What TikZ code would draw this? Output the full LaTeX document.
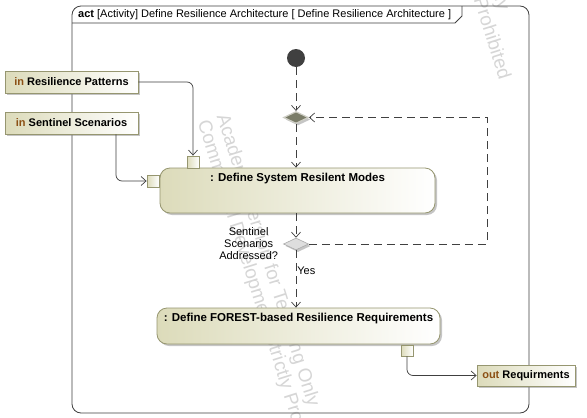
\documentclass[tikz,border=0pt]{standalone}
\usepackage{fontspec}
\setmainfont{Liberation Sans}
\usetikzlibrary{arrows.meta,positioning,shapes.geometric,shadows,calc}
\definecolor{frameGray}{RGB}{64,64,64}
\definecolor{nodeOlive}{RGB}{150,150,112}
\definecolor{fillCream}{RGB}{220,219,186}
\definecolor{pinBrown}{RGB}{140,80,20}
\definecolor{initDark}{RGB}{64,64,64}
\definecolor{mergeDark}{RGB}{122,124,104}
\definecolor{mergeRim}{RGB}{205,205,196}
\definecolor{decideLight}{RGB}{222,222,222}
\definecolor{decideRim}{RGB}{170,170,170}
\definecolor{markGray}{RGB}{214,214,214}
\tikzset{
  shade/.style={drop shadow={shadow xshift=2pt, shadow yshift=-2pt, fill=black!50, opacity=0.45}},
  action/.style={draw=nodeOlive, thick, rounded corners=10pt, left color=fillCream, right color=white, minimum height=45pt, inner sep=0pt, shade},
  actlabel/.style={font=\bfseries\fontsize{11.5}{13}\selectfont, inner sep=0pt},
  pinbox/.style={draw=nodeOlive, thick, left color=fillCream, right color=white, minimum height=22pt, inner sep=0pt, font=\bfseries\fontsize{11}{13}\selectfont, shade},
  portbox/.style={draw=nodeOlive, thick, left color=fillCream, right color=white, minimum size=12pt, inner sep=0pt},
  merge/.style={diamond, aspect=2, minimum width=25pt, minimum height=12pt, inner sep=0pt, shade},
  flow/.style={draw=frameGray, line width=0.7pt, -{Straight Barb[length=5pt,width=9pt]}},
  ctrl/.style={flow, dash pattern=on 8pt off 5pt},
  obj/.style={flow, rounded corners=6pt},
  note/.style={font=\fontsize{11}{12}\selectfont, inner sep=1pt},
  markText/.style={text=markGray, font=\fontsize{19}{20}\selectfont, align=left, inner sep=0pt}
}
\newcommand{\pinkind}[1]{\textcolor{pinBrown}{#1}}

\begin{document}
\begin{tikzpicture}[x=1pt,y=-1pt]
  \useasboundingbox (0,0) rectangle (587,418);
  \fill[white] (0,0) rectangle (587,418);

  % watermark
  \begin{scope}
    \clip (0,0) rectangle (587,418);
    \node[markText, anchor=north west, rotate=-72.5] (markA) at (230,112) {Academic Version for Teaching Only\\Commercial Development Strictly Prohibited};
    \node[markText, anchor=north west, rotate=-72.5] (markB) at (420,-284) {Academic Version for Teaching Only\\Commercial Development Strictly Prohibited};
  \end{scope}

  % frame
  \draw[frameGray, line width=0.8pt, rounded corners=9pt] (72,6) rectangle (529,413);
  \draw[frameGray, line width=0.8pt] (72,23) -- (455,23) -- (462,16) -- (462,6);
  \node[anchor=west, font=\fontsize{11}{13}\selectfont, inner sep=0pt] (title) at (78,14.5) {\textbf{act} [Activity] Define Resilience Architecture [ Define Resilience Architecture ]};

  % control nodes
  \node[circle, fill=initDark, minimum size=18pt, inner sep=0pt] (init) at (296,58) {};
  \node[merge, fill=mergeDark, draw=mergeRim, line width=1.2pt] (merge) at (296,117.5) {};
  \node[merge, fill=decideLight, draw=decideRim, line width=0.6pt] (decide) at (296,244) {};
  \node[note, align=center, left=4pt of decide.west] (question) {Sentinel\\Scenarios\\Addressed?};
  \coordinate (loop) at (487,180);

  % actions
  \node[action, minimum width=275pt] (modes) at (297.5,190.5) {};
  \node[actlabel, below=5pt of modes.north] (modesTxt) {: Define System Resilent Modes};
  \node[action, minimum width=283pt, minimum height=36pt] (forest) at (298.5,326) {};
  \node[actlabel, below=5pt of forest.north] (forestTxt) {: Define FOREST-based Resilience Requirements};

  % pins
  \node[portbox] (topPin) at (193,162) {};
  \node[portbox] (leftPin) at (153,181) {};
  \node[portbox, minimum height=11pt] (botPin) at (407,350.5) {};

  % parameters
  \node[pinbox, minimum width=133pt] (inPat) at (71.5,82) {\pinkind{in} Resilience Patterns};
  \node[pinbox, minimum width=133pt] (inScen) at (71.5,123) {\pinkind{in} Sentinel Scenarios};
  \node[pinbox, minimum width=98pt, minimum height=21pt] (outReq) at (526,375.5) {\pinkind{out} Requirments};

  % flows
  \draw[obj] (inPat.east) -| (topPin.north);
  \draw[obj] ([xshift=44.5pt]inScen.south) |- (leftPin.west);
  \draw[ctrl] (init) -- (merge.north);
  \draw[ctrl] (merge.south) -- (merge.south |- modes.north);
  \draw[ctrl] (decide |- modes.south) -- (decide.north);
  \draw[ctrl] (decide.east) -| (loop) |- (merge.east);
  \draw[ctrl] (decide.south) -- node[note, right, pos=0.35] (yes) {Yes} (decide |- forest.north);
  \draw[obj] (botPin.south) |- (outReq.west);
\end{tikzpicture}
\end{document}
